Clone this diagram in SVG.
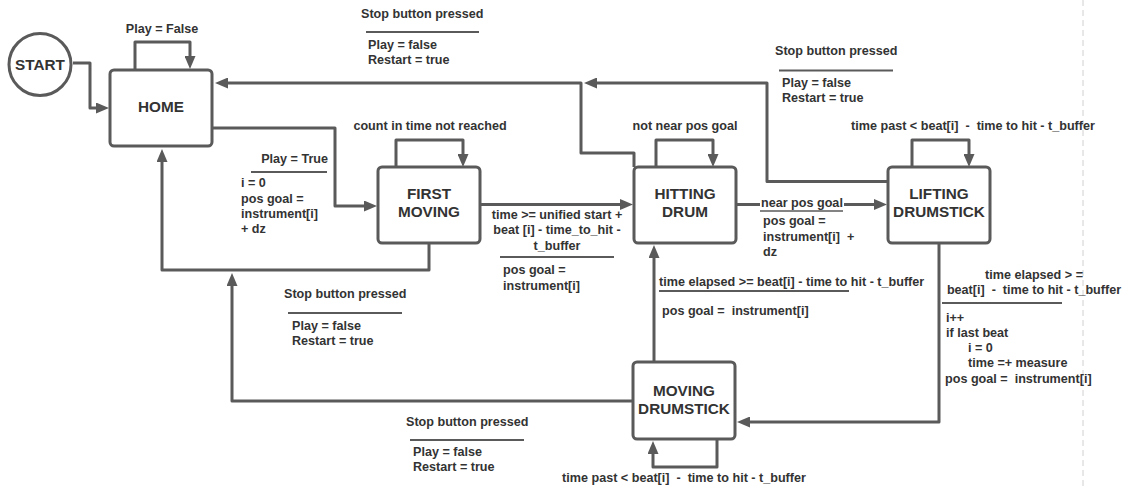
<svg xmlns="http://www.w3.org/2000/svg" width="1129" height="488" viewBox="0 0 1129 488">
<style>
.box{fill:#fff;stroke:#5a5a5a;stroke-width:3}
.bt{font-family:"Liberation Sans",Arial,sans-serif;font-weight:bold;font-size:15.3px;fill:#333;text-anchor:middle}
.lb{font-family:"Liberation Sans",Arial,sans-serif;font-weight:bold;font-size:12.6px;fill:#333;white-space:pre}
.c{text-anchor:middle}
.r{text-anchor:end}
.e{fill:none;stroke:#5a5a5a;stroke-width:3;stroke-linejoin:round}
.sep{stroke:#5a5a5a;stroke-width:1.8}
</style>
<defs>
<marker id="ah" markerUnits="userSpaceOnUse" markerWidth="13" markerHeight="11" refX="0" refY="5.5" orient="auto">
<path d="M0,0 L13,5.5 L0,11 z" fill="#5a5a5a"/>
</marker>
</defs>
<line x1="1083" y1="0" x2="1083" y2="488" stroke="#d0d0d0" stroke-width="1" stroke-dasharray="6,4"/>
<g id="connectors">
<path class="e" d="M73,63 H90 V108 H96" marker-end="url(#ah)"/>
<path class="e" d="M135,69 V42 H190 V56" marker-end="url(#ah)"/>
<path class="e" d="M212,128 H335 V206 H364" marker-end="url(#ah)"/>
<path class="e" d="M396,167 V140 H463 V154" marker-end="url(#ah)"/>
<path class="e" d="M480,204.5 H620" marker-end="url(#ah)"/>
<path class="e" d="M656,167 V140 H713 V154" marker-end="url(#ah)"/>
<path class="e" d="M736,204.5 H874" marker-end="url(#ah)"/>
<path class="e" d="M912,167 V140 H969 V154" marker-end="url(#ah)"/>
<path class="e" d="M888,181.5 H767 V83 H597" marker-end="url(#ah)"/>
<path class="e" d="M634,167 V153 H581 V83 H228" marker-end="url(#ah)"/>
<path class="e" d="M429,244 V270 H162 V162" marker-end="url(#ah)"/>
<path class="e" d="M632,401 H232 V286" marker-end="url(#ah)"/>
<path class="e" d="M654,362 V258" marker-end="url(#ah)"/>
<path class="e" d="M939,244 V422 H750" marker-end="url(#ah)"/>
<path class="e" d="M717,439 V467 H653 V454" marker-end="url(#ah)"/>
</g>
<g id="start">
<circle cx="40" cy="64.5" r="31" fill="#fff" stroke="#5a5a5a" stroke-width="3"/>
<text class="bt" x="40" y="70">START</text>
</g>
<g id="home">
<rect class="box" x="110" y="70" width="102" height="76" rx="4"/>
<text class="bt" x="161" y="112">HOME</text>
</g>
<g id="first-moving">
<rect class="box" x="378" y="167" width="102" height="76" rx="4"/>
<text class="bt" x="429" y="199">FIRST</text>
<text class="bt" x="429" y="217">MOVING</text>
</g>
<g id="hitting-drum">
<rect class="box" x="634" y="167" width="102" height="76" rx="4"/>
<text class="bt" x="685" y="199">HITTING</text>
<text class="bt" x="685" y="217">DRUM</text>
</g>
<g id="lifting-drumstick">
<rect class="box" x="888" y="167" width="102" height="76" rx="4"/>
<text class="bt" x="939" y="199">LIFTING</text>
<text class="bt" x="939" y="217">DRUMSTICK</text>
</g>
<g id="moving-drumstick">
<rect class="box" x="633" y="362" width="102" height="77" rx="4"/>
<text class="bt" x="684" y="395.5">MOVING</text>
<text class="bt" x="684" y="414">DRUMSTICK</text>
</g>
<g id="labels">
<text class="lb c" x="162" y="33">Play = False</text>
<text class="lb c" x="430" y="130">count in time not reached</text>
<text class="lb c" x="685" y="130">not near pos goal</text>
<text class="lb c" x="973" y="130">time past &lt; beat[i]  -  time to hit - t_buffer</text>
<text class="lb c" x="684" y="482">time past &lt; beat[i]  -  time to hit - t_buffer</text>

<text class="lb" x="361" y="18">Stop button pressed</text>
<line class="sep" x1="366" y1="32" x2="479" y2="32"/>
<text class="lb" x="368" y="49">Play = false</text>
<text class="lb" x="368" y="64">Restart = true</text>

<text class="lb" x="775" y="55">Stop button pressed</text>
<line class="sep" x1="779" y1="70.5" x2="893" y2="70.5"/>
<text class="lb" x="782" y="87">Play = false</text>
<text class="lb" x="782" y="102">Restart = true</text>

<text class="lb" x="284" y="297.5">Stop button pressed</text>
<line class="sep" x1="288" y1="313" x2="402" y2="313"/>
<text class="lb" x="292" y="329.5">Play = false</text>
<text class="lb" x="292" y="344.5">Restart = true</text>

<text class="lb" x="406" y="425.5">Stop button pressed</text>
<line class="sep" x1="410" y1="440" x2="524" y2="440"/>
<text class="lb" x="413" y="456">Play = false</text>
<text class="lb" x="413" y="471">Restart = true</text>

<text class="lb r" x="328" y="162.5">Play = True</text>
<line class="sep" x1="251" y1="172" x2="327" y2="172"/>
<text class="lb" x="241" y="187">i = 0</text>
<text class="lb" x="241" y="202.5">pos goal =</text>
<text class="lb" x="241" y="218">instrument[i]</text>
<text class="lb" x="241" y="233">+ dz</text>

<text class="lb c" x="557" y="219">time &gt;= unified start +</text>
<text class="lb c" x="557" y="234">beat [i] - time_to_hit -</text>
<text class="lb c" x="557" y="249.5">t_buffer</text>
<line class="sep" x1="500" y1="257" x2="614" y2="257"/>
<text class="lb" x="503" y="274">pos goal =</text>
<text class="lb" x="503" y="289.5">instrument[i]</text>

<rect x="760" y="197" width="84" height="13" fill="#fff"/>
<text class="lb" x="761" y="207">near pos goal</text>
<line class="sep" x1="760" y1="211" x2="843" y2="211" style="stroke-width:1.4"/>
<text class="lb" x="763" y="225">pos goal =</text>
<text class="lb" x="763" y="240.5">instrument[i]  +</text>
<text class="lb" x="763" y="255.5">dz</text>

<text class="lb" x="659" y="286">time elapsed &gt;= beat[i] - time to hit - t_buffer</text>
<line class="sep" x1="659" y1="291" x2="849" y2="291"/>
<text class="lb" x="662" y="314.5">pos goal =  instrument[i]</text>

<text class="lb c" x="1034" y="279">time elapsed &gt; =</text>
<text class="lb c" x="1034" y="294">beat[i]  -  time to hit - t_buffer</text>
<line class="sep" x1="942" y1="303" x2="1062" y2="303"/>
<text class="lb" x="946" y="322">i++</text>
<text class="lb" x="946" y="337">if last beat</text>
<text class="lb" x="968" y="352">i = 0</text>
<text class="lb" x="968" y="367">time =+ measure</text>
<text class="lb" x="945" y="382.5">pos goal =  instrument[i]</text>
</g>
</svg>
